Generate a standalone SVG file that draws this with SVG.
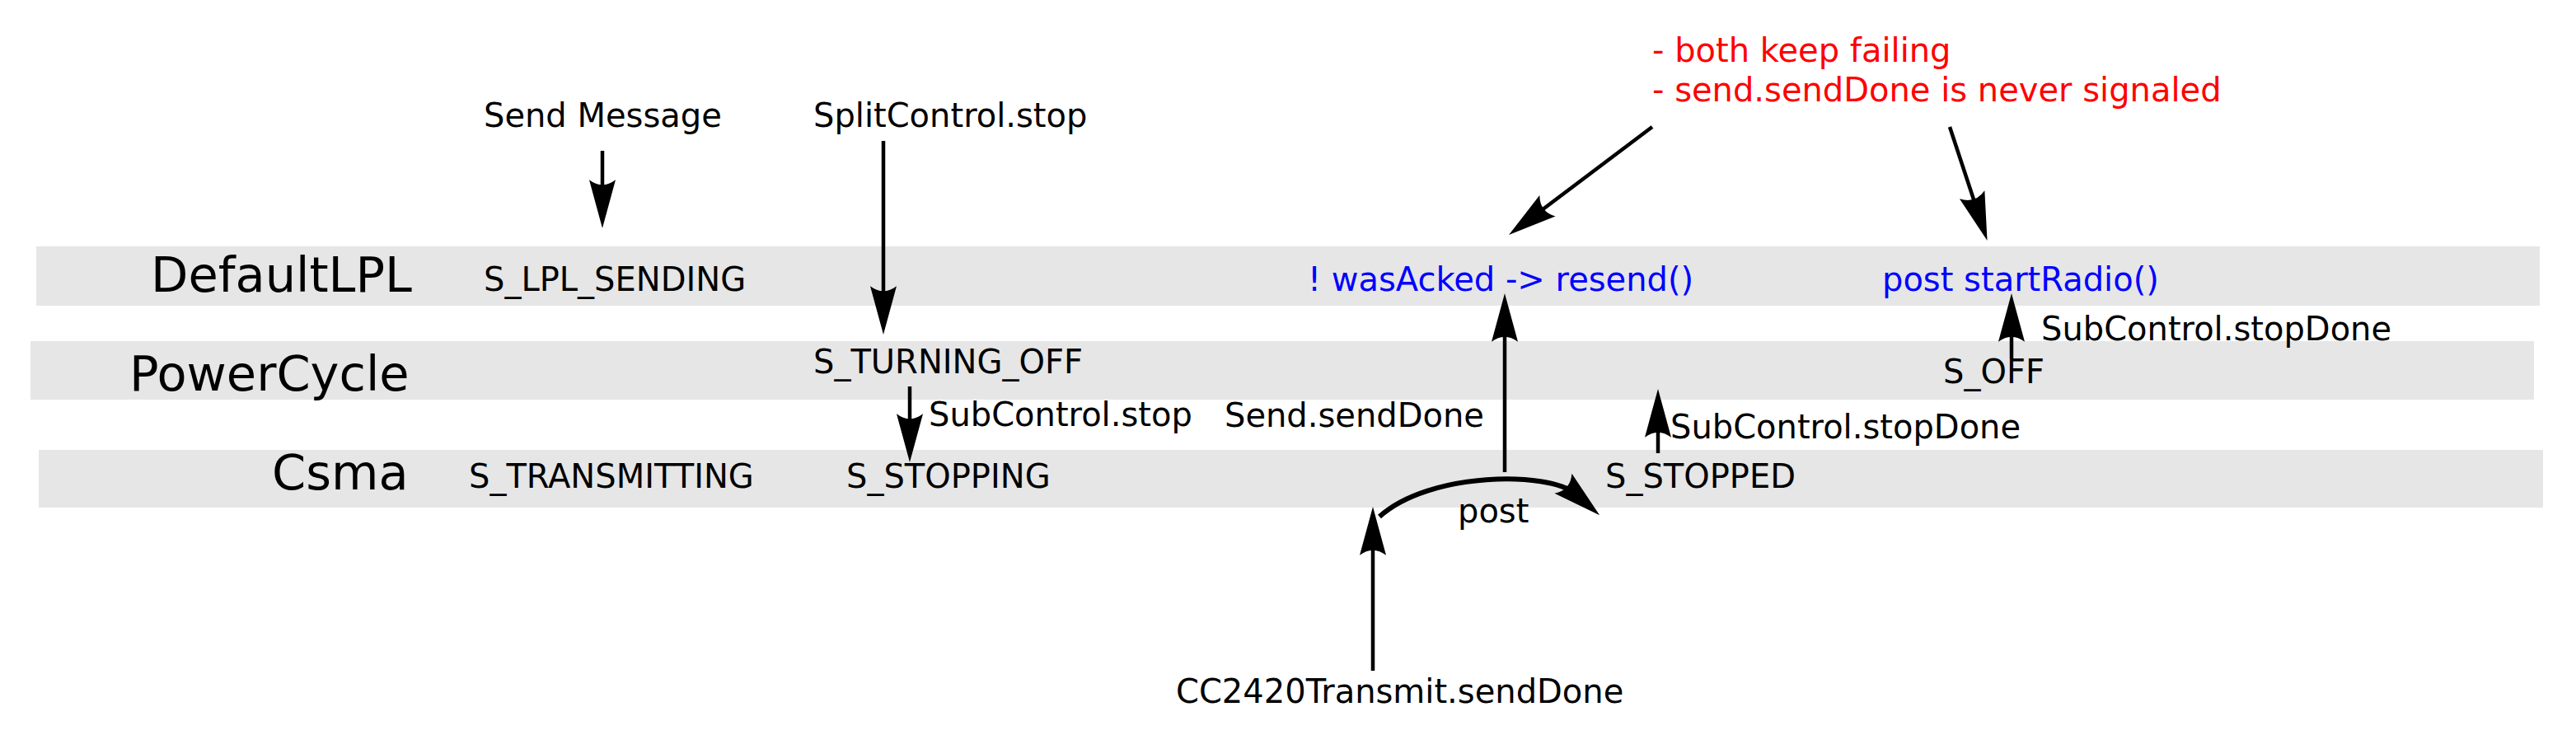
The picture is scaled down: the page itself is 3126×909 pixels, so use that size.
<svg xmlns="http://www.w3.org/2000/svg" width="3126" height="909" viewBox="0 0 3126 909">
<style>
text{font-family:"DejaVu Sans","Liberation Sans",sans-serif;font-size:40px;fill:#000}
.lane{font-size:59px}
.red{fill:#ff0000}
.blue{fill:#0000ff}
.band{fill:#e6e6e6}
.c{fill:none;stroke:#000;stroke-width:4.5}
.cv{fill:none;stroke:#000;stroke-width:6}
</style>
<defs>
<marker id="ah" markerUnits="userSpaceOnUse" orient="auto" refX="0" refY="0" markerWidth="80" markerHeight="80" viewBox="-20 -20 60 40" overflow="visible">
<path d="M30,0 L-14,-12 Q-5,0 -14,12 Z" fill="#000"/>
</marker>
</defs>
<rect width="3126" height="909" fill="#fff"/>
<g id="lane-defaultlpl"><rect class="band" x="44" y="299" width="3038" height="72"/><text class="lane" x="183" y="354">DefaultLPL</text></g>
<g id="lane-powercycle"><rect class="band" x="37" y="414" width="3038" height="71"/><text class="lane" x="157" y="474">PowerCycle</text></g>
<g id="lane-csma"><rect class="band" x="47" y="546" width="3039" height="70"/><text class="lane" x="330" y="594">Csma</text></g>
<g id="send-message"><text x="587" y="154">Send Message</text></g>
<g id="splitcontrol-stop"><text x="987" y="154">SplitControl.stop</text></g>
<g id="note"><text class="red" x="2005" y="75">- both keep failing</text><text class="red" x="2005" y="123">- send.sendDone is never signaled</text></g>
<g id="s-lpl-sending"><text x="587" y="353">S_LPL_SENDING</text></g>
<g id="resend"><text class="blue" x="1587" y="353">! wasAcked -&gt; resend()</text></g>
<g id="start-radio"><text class="blue" x="2284" y="353">post startRadio()</text></g>
<g id="s-turning-off"><text x="987" y="453">S_TURNING_OFF</text></g>
<g id="s-off"><text x="2358" y="465">S_OFF</text></g>
<g id="s-transmitting"><text x="569" y="592">S_TRANSMITTING</text></g>
<g id="s-stopping"><text x="1027" y="592">S_STOPPING</text></g>
<g id="s-stopped"><text x="1948" y="592">S_STOPPED</text></g>
<g id="cc2420-senddone"><text x="1427" y="853">CC2420Transmit.sendDone</text></g>
<g id="connectors">
<line class="c" x1="731" y1="183" x2="731" y2="237" marker-end="url(#ah)"/>
<line class="c" x1="1072" y1="171" x2="1072" y2="366" marker-end="url(#ah)"/>
<line class="c" x1="1104" y1="469" x2="1104" y2="521" marker-end="url(#ah)"/>
<text x="1127" y="517">SubControl.stop</text>
<line class="c" x1="1826" y1="573" x2="1826" y2="396" marker-end="url(#ah)"/>
<text x="1486" y="518">Send.sendDone</text>
<line class="c" x1="2441" y1="435" x2="2441" y2="396" marker-end="url(#ah)"/>
<text x="2477" y="413">SubControl.stopDone</text>
<line class="c" x1="2012" y1="550" x2="2012" y2="512" marker-end="url(#ah)"/>
<text x="2027" y="532">SubControl.stopDone</text>
<line class="c" x1="1666" y1="814" x2="1666" y2="655" marker-end="url(#ah)"/>
<line class="c" x1="2005" y1="154" x2="1863" y2="261" marker-end="url(#ah)"/>
<line class="c" x1="2366" y1="154" x2="2399" y2="254" marker-end="url(#ah)"/>
<path class="cv" d="M1674,627 C1735,572 1880,572 1911,599" marker-end="url(#ah)"/>
<text x="1769" y="634">post</text>
</g>
</svg>
